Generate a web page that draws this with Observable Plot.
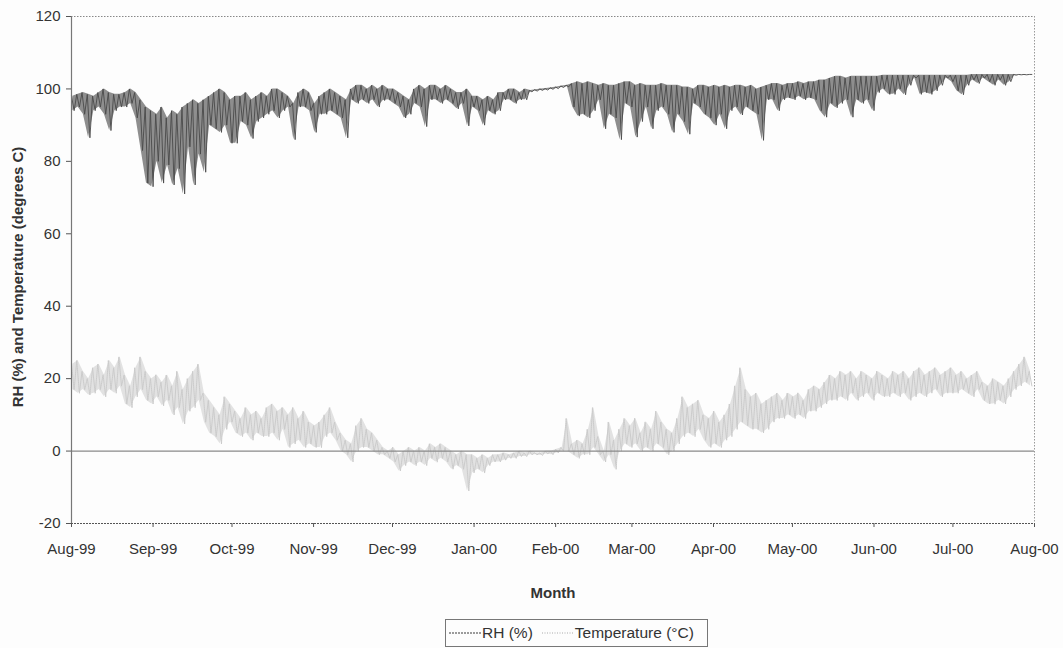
<!DOCTYPE html>
<html><head><meta charset="utf-8">
<script src="https://cdn.jsdelivr.net/npm/d3@7"></script>
<script src="https://cdn.jsdelivr.net/npm/@observablehq/plot@0.6"></script>
<style>
body{margin:0;background:#fdfdfd;font-family:"Liberation Sans",Arial,sans-serif;color:#333;}
#wrap{position:relative;width:1063px;height:648px;overflow:hidden;}
#legend{position:absolute;left:445px;top:619px;width:263px;height:28px;border:1px solid #777;box-sizing:border-box;display:flex;align-items:center;font-size:15.5px;color:#333;background:#fdfdfd;}
#legend svg{display:block;margin:0 1px 0 3px;}
#legend span{margin-right:6px;}
</style></head><body><div id="wrap"><div id="chart"></div><div id="legend"></div></div>
<script>
// ---- data (two-day periods from 1 Aug 1999; high / low values) ----
const startDate = "1999-08-01";
const endDate = "2000-08-01";
const monthLabels = ["Aug-99","Sep-99","Oct-99","Nov-99","Dec-99","Jan-00","Feb-00","Mar-00","Apr-00","May-00","Jun-00","Jul-00","Aug-00"];
const yTicks = [-20, 0, 20, 40, 60, 80, 100, 120];
const yTickLabels = ["-20", "0", "20", "40", "60", "80", "100", "120"];
const seriesNames = ["RH (%)", "Temperature (°C)"];

const rhHigh = [
 98,98.5,99,98.5,98, 99,100,99,98.5,98.5, 99,100,99,97,
 95,94,93,95,92,94,93,95,96,97,96,97,
 98,99,100,99,97,98, 98,99,97,98,99,98, 100,100,99,98,96, 99,100,99,96,
 98,99,100,99,98, 97, 100,101,101,100,101,100,101,100, 100,99,98,97, 100,101,100,
 101,101,100,101,100, 99, 99,100,98, 98,97,98,97,99, 99,100,100,99,100,
 99.6,99.8,100,100.1,100.3,100.5,100.8,101, 101.5, 102,101.5,102,101.5,
 101,101.5,101,101,101.5, 102,102,101, 101.5,101,101, 101,101.5,101,101,
 101,100.5,100.5, 100,101, 101,100.5,101,100.5,101,100.5, 101,101,100.5,101,
 100,100.5, 101,101.5,101.5,101, 101.5,101.5,102,101.5,102,102,102.5, 102.5,
 103,103.5,103.5,103,103.5, 103.5,103.5,103.5,103.5,103.5,
 103.8,103.8,103.8,103.8,103.8,103.8,103.8,
 103.8,103.8,103.8,103.8,103.8,103.8,103.8,103.8,103.8,103.8,
 104,104,104,104,104,104,104,104,104,104,104,104
];
const rhLow = [
 94,95,93,86.5,94, 95,93,88.5,94,95, 95,96,92,83,
 74,73,80,74,79,73.5,78,71,84,73.5,82,77,
 90,89,88,90,85,85, 91,90,86.3,91,92,93, 94,92,94,95,86, 95,95,94,88,
 93,93,94,93,92, 86.5, 97,96,97,96,97,95,96.8,97, 96,95,92,93, 96,95,89.6,
 97,97,96,97,96, 94.5, 96,89.8,95, 94,90,94,93,94, 97,97,96,97,97,
 99.2,99.4,99.6,99.7,99.9,100.1,100.4,100.6, 95, 92.5,93,92,94,
 97,89,93,92,86, 96,95,86.7, 91,95,89, 94,95,93,88,
 93,91,87.5, 96,95, 93,92,90,93,89,94, 95,92.8,95,94,
 93,85.8, 97,97,94,97, 97.5,97,98,97,97.5,97,94, 92.2,
 96,94.8,96,97,92.2, 97,96,97,94,99,
 100,98.5,98.5,100,98.4,101,103,
 98.5,99,98.5,99.5,101,103,102,99.5,98.4,101,
 102.5,101.5,103,102,101,102.5,101,102,103.8,103.9,103.9,104
];
const tempHigh = [
 24,25,22,20,23,24,21,25,23,26, 21,18,23,26,22,20,21,19,21,18,
 22,17,20,22,24,16,14,12,10,15, 13,11,9,12,10,11,9,12,13,11,
 12,10,12,9,11,8,7,8,10,12, 8,5,3,2,7,9,6,5,3,1,
 0,1,-1,0,1,0,1,0,2,1, 2,1,0,-1,0,-1,-1,-2,-1,-2,
 -1,-1,-0.5,-1,-0.5,0,-0.5,0,-0.5,-0.5, 0,0,0.5,1,9,2,3,2,6,12,
 4,0,8,3,6,9,7,9,5,8, 6,11,8,6,5,9,15,12,13,14,
 10,9,11,8,10,13,18,23,17,15, 16,13,14,15,16,14,16,15,16,14,
 17,18,17,19,21,20,22,21,22,20, 22,21,20,22,21,20,22,21,22,20,
 22,23,21,22,23,21,22,23,21,22, 20,21,22,19,18,20,19,18,20,22,
 24,26,22
];
const tempLow = [
 17,16,17,15.5,16,17,15,17,16,18, 13,12,15,17,14,13,15,12.5,14,10,
 12,7.5,11,12,14,8,5,4,2,6, 8,5,4,5,3,5,4,4,5,3,
 6,1,2,3,1,2,1,1,4,5, 3,0,-1,-3,0,1,1,0,-1,-1,
 -2,-3,-5.5,-4,-3,-4,-3,-4,-2,-3, -2,-3,-5,-4,-5,-11,-6,-5,-6,-4,
 -3,-3,-2.5,-2,-2,-1.5,-1.5,-1,-1,-1.2, -0.8,-1,-0.5,0,0,-1,-2,-1,-1,1,
 -1,-3,-1,-5,0,2,1,2,0,1, 0,2,1,-1,0,2,4,5,4,6,
 3,1,2,1,3,4,6,8,7,6, 6,5,6,8,9,9,10,9,10,9,
 11,11,12,13,14,14,15,14,16,14, 15,16,14,16,15,15,16,15,16,14,
 15,16,15,16,17,15,16,16,16,17, 16,15,17,14,13,13,14,13,15,17,
 18,19,18
];

// ---- build tables ----
const DAY = 864e5;
const t0 = new Date(startDate + "T00:00:00Z");
const t1 = new Date(endDate + "T00:00:00Z");
function zigzag(high, low) {
  return high.flatMap((h, k) => [
    {date: new Date(+t0 + (2 * k) * DAY), v: h},
    {date: new Date(+t0 + (2 * k + 1) * DAY), v: low[k]}
  ]);
}
function band(high, low) {
  return high.map((h, k) => ({date: new Date(+t0 + (2 * k + 0.5) * DAY), lo: low[k], hi: h}));
}
const rhRows = zigzag(rhHigh, rhLow);
const tempRows = zigzag(tempHigh, tempLow);
const rhBand = band(rhHigh, rhLow);
const tempBand = band(tempHigh, tempLow);
const monthDates = d3.utcMonth.range(t0, new Date(+t1 + DAY));
const labelByTime = new Map(monthDates.map((d, i) => [+d, monthLabels[i]]));
const labelByY = new Map(yTicks.map((v, i) => [v, yTickLabels[i]]));

const RH_COLOR = "#4a4a4a";
const RH_FILL = "#8e8e8e";
const T_COLOR = "#cbcbcb";
const T_FILL = "#e2e2e2";

const chart = Plot.plot({
  width: 1063, height: 612,
  marginTop: 16, marginRight: 29, marginBottom: 89, marginLeft: 71,
  style: {fontFamily: "Liberation Sans, Arial, sans-serif", fontSize: "15px", color: "#333", background: "transparent", overflow: "visible"},
  x: {type: "utc", domain: [t0, t1]},
  y: {domain: [-20, 120]},
  marks: [
    Plot.areaY(tempBand, {x: "date", y1: "lo", y2: "hi", fill: T_FILL}),
    Plot.line(tempRows, {x: "date", y: "v", stroke: T_COLOR, strokeWidth: 1, strokeDasharray: "1.2,0.8"}),
    Plot.ruleY([0], {stroke: "#8a8a8a", strokeWidth: 1.2}),
    Plot.areaY(rhBand, {x: "date", y1: "lo", y2: "hi", fill: RH_FILL}),
    Plot.line(rhRows, {x: "date", y: "v", stroke: RH_COLOR, strokeWidth: 0.9}),
    Plot.ruleY([120], {stroke: "#888", strokeDasharray: "1.5,1.5"}),
    Plot.ruleX([t1], {stroke: "#999", strokeDasharray: "1.5,1.5"}),
    Plot.ruleY([-20], {stroke: "#555", strokeDasharray: "2,1"}),
    Plot.ruleX([t0], {stroke: "#777", strokeWidth: 1.2}),
    Plot.axisX({ticks: monthDates, tickFormat: d => labelByTime.get(+d), tickSize: 4, tickPadding: 16, label: null, stroke: "#555", fill: "#333", fontSize: 15}),
    Plot.axisY({ticks: yTicks, tickFormat: v => labelByY.get(v), tickSize: 5, tickPadding: 6, label: null, stroke: "#555", fill: "#333", fontSize: 15}),
    Plot.text(["RH (%) and Temperature (degrees C)"], {frameAnchor: "left", dx: -53, dy: 7, rotate: -90, textAnchor: "middle", fontWeight: "bold", fontSize: 15, fill: "#333"}),
    Plot.text(["Month"], {frameAnchor: "bottom", dy: 74, fontWeight: "bold", fontSize: 15, fill: "#333"})
  ]
});
document.getElementById("chart").appendChild(chart);

// ---- legend ----
const legend = document.getElementById("legend");
seriesNames.forEach((name, i) => {
  const ns = "http://www.w3.org/2000/svg";
  const s = document.createElementNS(ns, "svg");
  s.setAttribute("width", 32); s.setAttribute("height", 10);
  const l = document.createElementNS(ns, "line");
  l.setAttribute("x1", 0); l.setAttribute("x2", 32); l.setAttribute("y1", 5); l.setAttribute("y2", 5);
  l.setAttribute("stroke", i === 0 ? "#3b3b3b" : "#aaa");
  l.setAttribute("stroke-width", 1.2);
  l.setAttribute("stroke-dasharray", i === 0 ? "2,1" : "1,1.5");
  s.appendChild(l);
  legend.appendChild(s);
  const sp = document.createElement("span");
  sp.textContent = name;
  legend.appendChild(sp);
});
</script>
</body></html>
